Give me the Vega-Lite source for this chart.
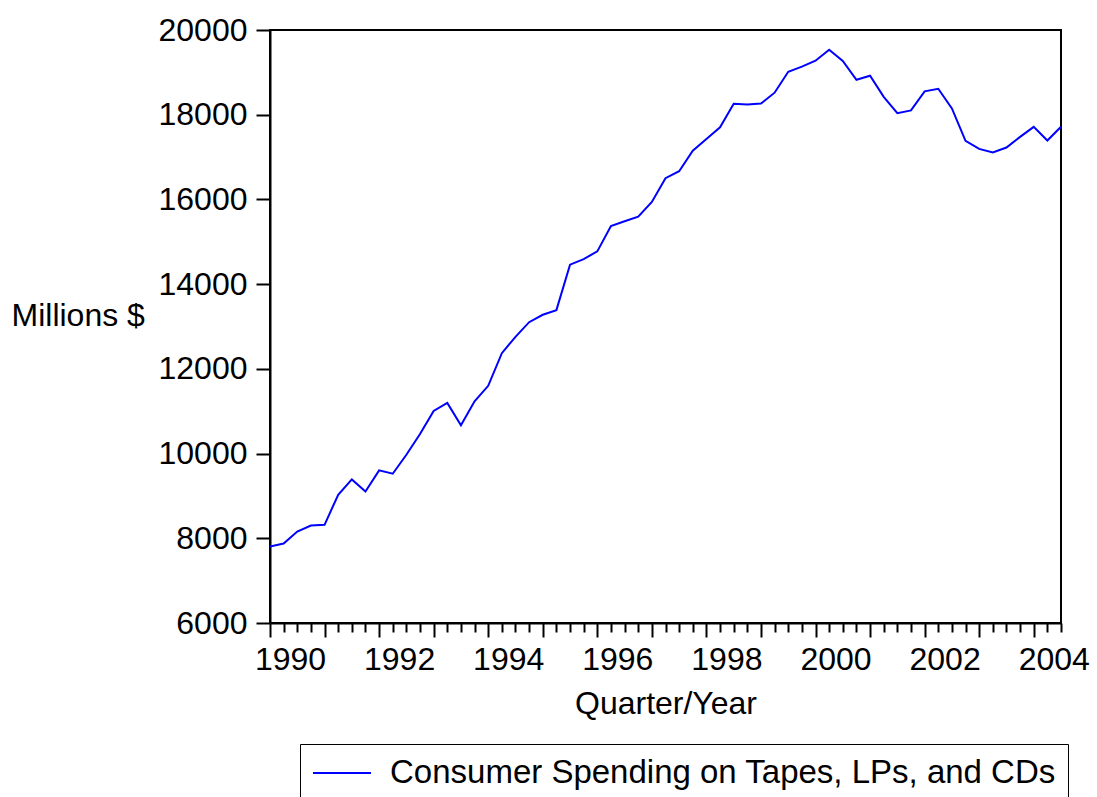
{
  "$schema": "https://vega.github.io/schema/vega-lite/v6.json",
  "width": 791,
  "height": 593,
  "autosize": {"type": "none"},
  "padding": {"left": 270, "top": 30, "right": 36, "bottom": 174},
  "background": "white",
  "config": {
    "font": "Liberation Sans",
    "view": {"stroke": "black", "strokeWidth": 2},
    "axis": {
      "domainColor": "black",
      "domainWidth": 2,
      "tickColor": "black",
      "tickWidth": 2,
      "labelColor": "black",
      "titleColor": "black",
      "labelFont": "Liberation Sans",
      "titleFont": "Liberation Sans",
      "labelFontSize": 32,
      "titleFontSize": 32,
      "titleFontWeight": "normal",
      "grid": false
    }
  },
  "data": {
    "values": [
      {"t": 1990.00, "spending": 7805},
      {"t": 1990.25, "spending": 7876},
      {"t": 1990.50, "spending": 8160},
      {"t": 1990.75, "spending": 8302},
      {"t": 1991.00, "spending": 8318},
      {"t": 1991.25, "spending": 9027},
      {"t": 1991.50, "spending": 9390},
      {"t": 1991.75, "spending": 9105},
      {"t": 1992.00, "spending": 9603},
      {"t": 1992.25, "spending": 9524},
      {"t": 1992.50, "spending": 9973},
      {"t": 1992.75, "spending": 10462},
      {"t": 1993.00, "spending": 11007},
      {"t": 1993.25, "spending": 11196},
      {"t": 1993.50, "spending": 10666},
      {"t": 1993.75, "spending": 11234},
      {"t": 1994.00, "spending": 11600},
      {"t": 1994.25, "spending": 12370},
      {"t": 1994.50, "spending": 12757},
      {"t": 1994.75, "spending": 13102},
      {"t": 1995.00, "spending": 13277},
      {"t": 1995.25, "spending": 13386},
      {"t": 1995.50, "spending": 14460},
      {"t": 1995.75, "spending": 14592},
      {"t": 1996.00, "spending": 14774},
      {"t": 1996.25, "spending": 15373},
      {"t": 1996.50, "spending": 15484},
      {"t": 1996.75, "spending": 15595},
      {"t": 1997.00, "spending": 15941},
      {"t": 1997.25, "spending": 16501},
      {"t": 1997.50, "spending": 16666},
      {"t": 1997.75, "spending": 17150},
      {"t": 1998.00, "spending": 17425},
      {"t": 1998.25, "spending": 17703},
      {"t": 1998.50, "spending": 18258},
      {"t": 1998.75, "spending": 18243},
      {"t": 1999.00, "spending": 18262},
      {"t": 1999.25, "spending": 18520},
      {"t": 1999.50, "spending": 19015},
      {"t": 1999.75, "spending": 19134},
      {"t": 2000.00, "spending": 19275},
      {"t": 2000.25, "spending": 19535},
      {"t": 2000.50, "spending": 19268},
      {"t": 2000.75, "spending": 18825},
      {"t": 2001.00, "spending": 18920},
      {"t": 2001.25, "spending": 18423},
      {"t": 2001.50, "spending": 18037},
      {"t": 2001.75, "spending": 18101},
      {"t": 2002.00, "spending": 18551},
      {"t": 2002.25, "spending": 18613},
      {"t": 2002.50, "spending": 18149},
      {"t": 2002.75, "spending": 17383},
      {"t": 2003.00, "spending": 17194},
      {"t": 2003.25, "spending": 17108},
      {"t": 2003.50, "spending": 17226},
      {"t": 2003.75, "spending": 17477},
      {"t": 2004.00, "spending": 17714},
      {"t": 2004.25, "spending": 17392},
      {"t": 2004.50, "spending": 17714}
    ]
  },
  "mark": {"type": "line", "strokeWidth": 2, "clip": true},
  "encoding": {
    "x": {
      "field": "t",
      "type": "quantitative",
      "scale": {"domain": [1990, 2004.5], "nice": false, "zero": false},
      "axis": {
        "title": "Quarter/Year",
        "titleY": 65,
        "titleBaseline": "top",
        "values": [1990, 1990.25, 1990.5, 1990.75, 1991, 1991.25, 1991.5, 1991.75, 1992, 1992.25, 1992.5, 1992.75, 1993, 1993.25, 1993.5, 1993.75, 1994, 1994.25, 1994.5, 1994.75, 1995, 1995.25, 1995.5, 1995.75, 1996, 1996.25, 1996.5, 1996.75, 1997, 1997.25, 1997.5, 1997.75, 1998, 1998.25, 1998.5, 1998.75, 1999, 1999.25, 1999.5, 1999.75, 2000, 2000.25, 2000.5, 2000.75, 2001, 2001.25, 2001.5, 2001.75, 2002, 2002.25, 2002.5, 2002.75, 2003, 2003.25, 2003.5, 2003.75, 2004, 2004.25, 2004.5],
        "tickSize": {"condition": {"test": "datum.value % 1 == 0", "value": 14}, "value": 9},
        "labelExpr": "datum.value % 2 == 0 ? format(datum.value, 'd') : ''",
        "labelOverlap": false,
        "labelFlush": false,
        "labelBound": false,
        "labelPadding": 7,
        "labelOffset": 20
      }
    },
    "y": {
      "field": "spending",
      "type": "quantitative",
      "scale": {"domain": [6000, 20000], "nice": false, "zero": false},
      "axis": {
        "title": "Millions $",
        "titleAngle": 0,
        "titleAlign": "left",
        "titleBaseline": "middle",
        "titleX": -259,
        "titleY": 285,
        "values": [6000, 8000, 10000, 12000, 14000, 16000, 18000, 20000],
        "format": "d",
        "tickSize": 14,
        "labelPadding": 9
      }
    },
    "color": {
      "datum": "Consumer Spending on Tapes, LPs, and CDs",
      "type": "nominal",
      "scale": {"range": ["#0000ff"]},
      "legend": {
        "title": null,
        "orient": "none",
        "legendX": 30,
        "legendY": 714,
        "padding": 12,
        "strokeColor": "black",
        "fillColor": "white",
        "symbolType": "stroke",
        "symbolSize": 3364,
        "symbolStrokeWidth": 2,
        "clipHeight": 34,
        "labelFont": "Liberation Sans",
        "labelFontSize": 33,
        "labelColor": "black",
        "labelOffset": 18,
        "labelLimit": 1000
      }
    }
  }
}
